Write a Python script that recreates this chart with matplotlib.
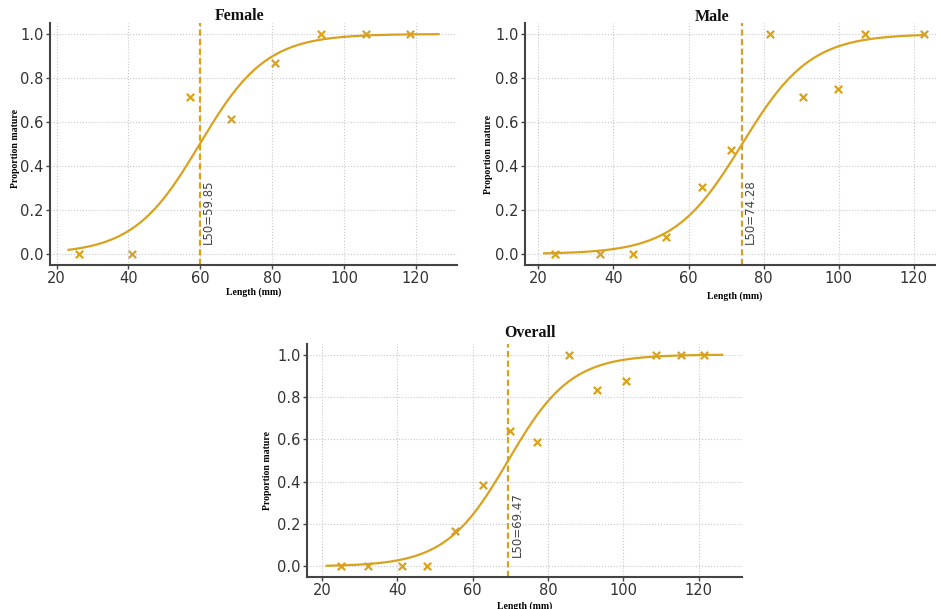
import numpy as np
import matplotlib
matplotlib.use("Agg")
import matplotlib.pyplot as plt

# ---- data ----
female_len = [26.3, 40.9, 57.2, 68.6, 80.7, 93.5, 106.0, 118.5]
female_prop = [0.0, 0.0, 0.714, 0.615, 0.867, 1.0, 1.0, 1.0]
female_l50 = 59.85
female_k = 0.108
female_curve_range = (23.3, 126.3)

male_len = [24.4, 36.4, 45.2, 53.9, 63.5, 71.3, 81.8, 90.4, 99.8, 107.0, 122.7]
male_prop = [0.0, 0.0, 0.0, 0.076, 0.304, 0.474, 1.0, 0.714, 0.75, 1.0, 1.0]
male_l50 = 74.28
male_k = 0.11
male_curve_range = (21.5, 123.0)

overall_len = [25.1, 32.3, 41.4, 47.8, 55.4, 62.7, 70.0, 77.0, 85.6, 93.1, 100.8, 108.8, 115.4, 121.5]
overall_prop = [0.0, 0.0, 0.0, 0.0, 0.165, 0.386, 0.641, 0.586, 1.0, 0.835, 0.876, 1.0, 1.0, 1.0]
overall_l50 = 69.47
overall_k = 0.12
overall_curve_range = (21.3, 126.3)

titles = ["Female", "Male", "Overall"]
xlabel = "Length (mm)"
ylabel = "Proportion mature"

GOLD = "#D9A21E"
TXT = "#333333"

fig = plt.figure(figsize=(9.36, 6.09), dpi=100)

W, H = 936, 609
def rect(l, r, t, b):
    return [l / W, 1 - b / H, (r - l) / W, (b - t) / H]

axes_rects = [rect(50, 457, 23, 265), rect(525, 944, 23, 265), rect(307, 742, 344, 577)]
title_pos = [(240, 16), (712, 17), (530, 333)]
ylabel_coords = [(-0.074, 0.483), (-0.076, 0.455), (-0.080, 0.459)]
xlabel_pads = [0.5, 4, 2]

datasets = [
    (female_len, female_prop, female_l50, female_k, female_curve_range),
    (male_len, male_prop, male_l50, male_k, male_curve_range),
    (overall_len, overall_prop, overall_l50, overall_k, overall_curve_range),
]

for i, (xs, ys, l50, k, cr) in enumerate(datasets):
    ax = fig.add_axes(axes_rects[i])
    xc = np.linspace(cr[0], cr[1], 300)
    yc = 1.0 / (1.0 + np.exp(-k * (xc - l50)))
    ax.plot(xc, yc, color=GOLD, lw=1.6, zorder=3)
    ax.scatter(xs, ys, marker="x", color=GOLD, s=28, linewidths=1.6, zorder=4)
    ax.axvline(l50, color=GOLD, lw=1.6, ls=(0, (2.8, 1.5)), zorder=2)
    ax.text(l50 + 0.6, 0.045, f"L50={l50:.2f}", rotation=90, ha="left", va="bottom",
            fontsize=8.5, color="#444444", family="DejaVu Sans", zorder=5)
    ax.set_xticks([20, 40, 60, 80, 100, 120])
    ax.set_yticks([0.0, 0.2, 0.4, 0.6, 0.8, 1.0])
    ax.set_yticklabels(["0.0", "0.2", "0.4", "0.6", "0.8", "1.0"])
    ax.grid(True, ls=":", color="#c8c8c8", lw=0.8)
    ax.set_axisbelow(True)
    for s in ["top", "right"]:
        ax.spines[s].set_visible(False)
    for s in ["left", "bottom"]:
        ax.spines[s].set_color("#444444")
        ax.spines[s].set_linewidth(1.5)
    ax.tick_params(axis="both", labelsize=10.5, labelcolor=TXT, color="#444444",
                   length=3, width=1, pad=1.5)
    ax.set_xlabel(xlabel, family="Liberation Serif", fontweight="bold", fontsize=7,
                  labelpad=xlabel_pads[i])
    ax.set_ylabel(ylabel, family="Liberation Serif", fontweight="bold", fontsize=7)
    ax.yaxis.set_label_coords(*ylabel_coords[i])
    tx, ty = title_pos[i]
    fig.text(tx / W, 1 - ty / H, titles[i], ha="center", va="center",
             family="Liberation Serif", fontweight="bold", fontsize=11.5, color="#111111")

fig.savefig("out.png", dpi=100)
